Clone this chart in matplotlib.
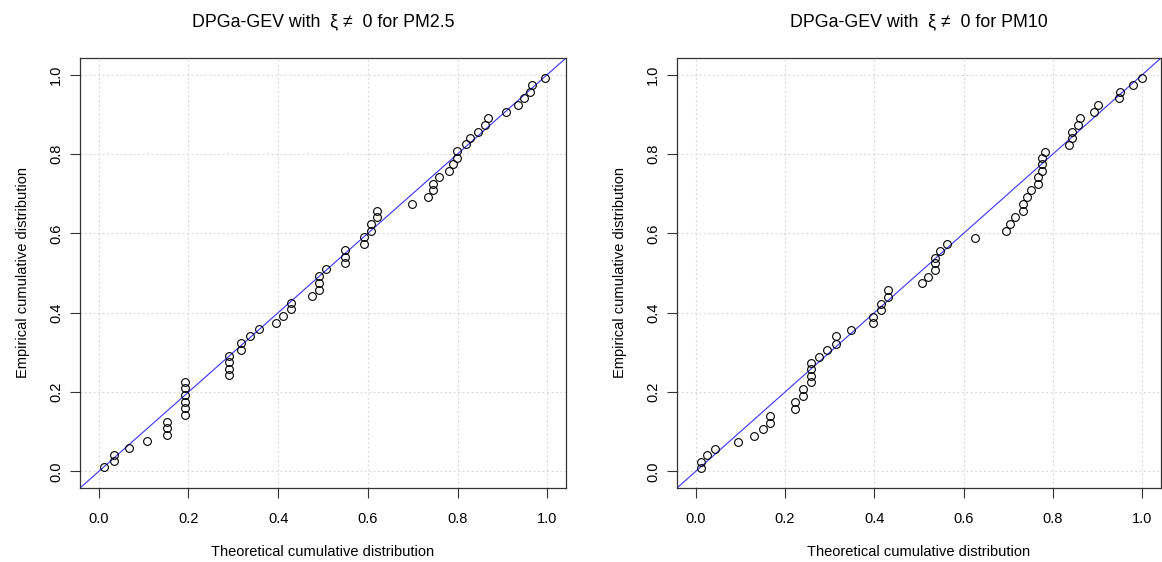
import matplotlib
matplotlib.use("Agg")
import matplotlib.pyplot as plt
import numpy as np

plt.rcParams['font.family'] = ['Liberation Sans', 'DejaVu Sans']

# PM2.5: theoretical vs empirical cumulative distribution
pm25_theo = [0.012, 0.033, 0.033, 0.067, 0.107, 0.152, 0.152, 0.152,
             0.193, 0.193, 0.193, 0.193, 0.193, 0.193,
             0.291, 0.291, 0.291, 0.291, 0.316, 0.316, 0.337, 0.358, 0.395, 0.411,
             0.429, 0.429, 0.475, 0.490, 0.490, 0.490, 0.507, 0.550, 0.550, 0.550,
             0.592, 0.592, 0.608, 0.608, 0.620, 0.620, 0.699, 0.735, 0.745, 0.745,
             0.758, 0.780, 0.790, 0.798, 0.798, 0.818, 0.828, 0.845, 0.862, 0.868,
             0.908, 0.934, 0.949, 0.962, 0.967, 0.996]
pm25_emp = [0.011, 0.025, 0.042, 0.059, 0.076, 0.091, 0.108, 0.125,
            0.143, 0.159, 0.176, 0.192, 0.209, 0.226,
            0.243, 0.259, 0.275, 0.291, 0.307, 0.324, 0.341, 0.358, 0.375, 0.391,
            0.408, 0.425, 0.442, 0.458, 0.475, 0.492, 0.509, 0.526, 0.541, 0.557,
            0.574, 0.591, 0.607, 0.624, 0.642, 0.657, 0.674, 0.692, 0.709, 0.725,
            0.741, 0.758, 0.775, 0.790, 0.807, 0.824, 0.840, 0.856, 0.873, 0.890,
            0.907, 0.924, 0.940, 0.957, 0.974, 0.992]

# PM10
pm10_theo = [0.011, 0.011, 0.026, 0.043, 0.094, 0.131, 0.150, 0.167, 0.167,
             0.223, 0.223, 0.240, 0.240, 0.259, 0.259, 0.259, 0.259,
             0.277, 0.295, 0.313, 0.313, 0.347, 0.398, 0.398, 0.414, 0.414,
             0.431, 0.431, 0.507, 0.521, 0.535, 0.535, 0.535, 0.548, 0.563,
             0.626, 0.694, 0.703, 0.714, 0.732, 0.732, 0.741, 0.750, 0.767, 0.767,
             0.776, 0.776, 0.776, 0.783, 0.837, 0.843, 0.843, 0.857, 0.861,
             0.892, 0.900, 0.947, 0.951, 0.979, 1.000]
pm10_emp = [0.008, 0.023, 0.040, 0.056, 0.073, 0.090, 0.107, 0.123, 0.140,
            0.157, 0.174, 0.191, 0.207, 0.224, 0.241, 0.258, 0.274,
            0.289, 0.306, 0.322, 0.340, 0.357, 0.373, 0.390, 0.406, 0.423,
            0.440, 0.457, 0.474, 0.491, 0.508, 0.525, 0.539, 0.556, 0.574,
            0.589, 0.606, 0.623, 0.640, 0.657, 0.674, 0.691, 0.708, 0.725, 0.741,
            0.758, 0.775, 0.789, 0.806, 0.823, 0.840, 0.856, 0.873, 0.890,
            0.907, 0.924, 0.940, 0.957, 0.974, 0.991]

titles = ["DPGa-GEV with  \u03be \u2260  0 for PM2.5",
          "DPGa-GEV with  \u03be \u2260  0 for PM10"]
ticks = [0.0, 0.2, 0.4, 0.6, 0.8, 1.0]
tick_labels = ["0.0", "0.2", "0.4", "0.6", "0.8", "1.0"]

fig = plt.figure(figsize=(11.62, 5.62), dpi=100)
W, H = 1162, 562
boxes = [(80, 58, 566, 488), (677, 58, 1161, 488)]
series = [(pm25_theo, pm25_emp), (pm10_theo, pm10_emp)]

for (l, t, r, b), (xs, ys), title in zip(boxes, series, titles):
    ax = fig.add_axes([l / W, 1 - b / H, (r - l) / W, (b - t) / H])
    ax.set_xlim(-0.042, 1.042)
    ax.set_ylim(-0.042, 1.042)
    ax.set_xticks(ticks)
    ax.set_yticks(ticks)
    ax.set_xticklabels(tick_labels)
    ax.set_yticklabels(tick_labels, rotation=90, va='center')
    ax.tick_params(length=7, width=0.8, labelsize=10.5, color='#333333', pad=6)
    ax.tick_params(axis='x', pad=10)
    ax.tick_params(axis='y', pad=5)
    ax.grid(True, linestyle=(0, (1.5, 2.5)), color='#d3d3d3', linewidth=0.8)
    ax.set_axisbelow(True)
    for s in ax.spines.values():
        s.set_color('#333333')
        s.set_linewidth(0.9)

    ax.plot([-0.1, 1.1], [-0.1, 1.1], color='#3333ff', linewidth=0.8, zorder=2)
    ax.plot(xs, ys, linestyle='none', marker='o', markersize=5.6,
            markerfacecolor='none', markeredgecolor='black',
            markeredgewidth=0.8, zorder=3)

    ax.set_title(title, fontsize=12.8, pad=23)
    ax.set_xlabel("Theoretical cumulative distribution", fontsize=10.5, labelpad=14)
    ax.set_ylabel("Empirical cumulative distribution", fontsize=10.5, labelpad=14)

fig.savefig("out.png", dpi=100)
